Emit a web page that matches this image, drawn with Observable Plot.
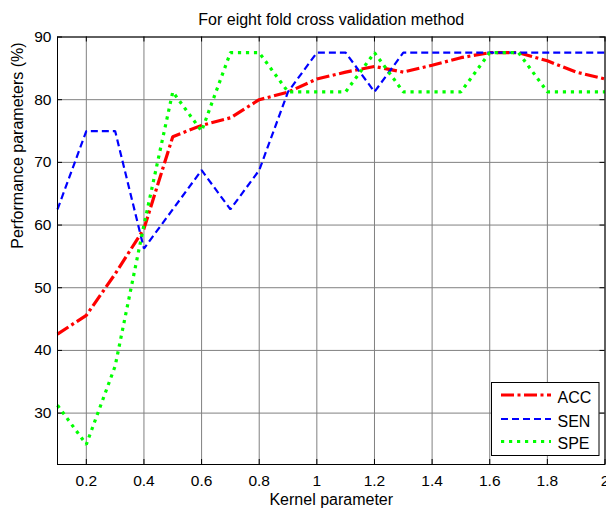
<!DOCTYPE html>
<html>
<head>
<meta charset="utf-8">
<script src="https://cdn.jsdelivr.net/npm/d3@7"></script>
<script src="https://cdn.jsdelivr.net/npm/@observablehq/plot@0.6"></script>
<style>
  html, body { margin: 0; padding: 0; background: white; }
  #chart { position: relative; width: 606px; height: 511px; font-family: "Liberation Sans", Arial, sans-serif; }
  #legend { position: absolute; left: 490.5px; top: 382px; }
</style>
</head>
<body>
<div id="chart"></div>
<script>
// ---- data ----
const kernel = [0.1, 0.2, 0.3, 0.4, 0.5, 0.6, 0.7, 0.8, 0.9, 1.0, 1.1, 1.2, 1.3, 1.4, 1.5, 1.6, 1.7, 1.8, 1.9, 2.0];
const acc = [42.6, 45.6, 52.2, 59.4, 74.1, 75.9, 77.1, 80.0, 81.2, 83.3, 84.4, 85.3, 84.4, 85.5, 86.7, 87.5, 87.5, 86.2, 84.4, 83.3];
const sen = [62.5, 75, 75, 56.25, 62.5, 68.75, 62.5, 68.75, 81.25, 87.5, 87.5, 81.25, 87.5, 87.5, 87.5, 87.5, 87.5, 87.5, 87.5, 87.5];
const spe = [31.25, 25, 37.5, 60, 81.25, 75, 87.5, 87.5, 81.25, 81.25, 81.25, 87.5, 81.25, 81.25, 81.25, 87.5, 87.5, 81.25, 81.25, 81.25];
const seriesNames = ["ACC", "SEN", "SPE"];
const xTicks = [0.2, 0.4, 0.6, 0.8, 1.0, 1.2, 1.4, 1.6, 1.8, 2.0];
const xTickLabels = ["0.2", "0.4", "0.6", "0.8", "1", "1.2", "1.4", "1.6", "1.8", "2"];
const yTicks = [30, 40, 50, 60, 70, 80, 90];
const titleText = "For eight fold cross validation method";
const xLabelText = "Kernel parameter";
const yLabelText = "Performance parameters (%)";

// ---- styles ----
const seriesValues = [acc, sen, spe];
const seriesStyle = [
  {stroke: "#ff0000", strokeWidth: 3.2, strokeDasharray: "13,3.5,3,3.5"},
  {stroke: "#0000ff", strokeWidth: 2.2, strokeDasharray: "7,4"},
  {stroke: "#00ff00", strokeWidth: 3.2, strokeDasharray: "3.2,4.8"}
];

const W = 606, H = 511;
const mL = 57, mR = 1.5, mT = 36.5, mB = 47;
const innerW = W - mL - mR, innerH = H - mT - mB;
const tickLen = 5;
const font = "'Liberation Sans', Arial, sans-serif";

const lineMarks = seriesValues.map((vals, s) =>
  Plot.line(kernel, {x: d => d, y: (d, i) => vals[i], ...seriesStyle[s], strokeLinecap: "butt", strokeLinejoin: "miter"})
);

const chart = Plot.plot({
  width: W, height: H,
  marginLeft: mL, marginRight: mR, marginTop: mT, marginBottom: mB,
  style: {fontFamily: font, fontSize: "15.5px", color: "black", background: "white", overflow: "visible"},
  x: {domain: [0.1, 2], ticks: xTicks, tickFormat: d => xTickLabels[xTicks.indexOf(d)], tickSize: 0, tickPadding: 10, label: null},
  y: {domain: [21.8, 90], ticks: yTicks, tickSize: 0, tickPadding: 6, label: null},
  marks: [
    Plot.ruleX(xTicks, {x: d => d, stroke: "#808080", strokeWidth: 1}),
    Plot.ruleY(yTicks, {y: d => d, stroke: "#808080", strokeWidth: 1}),
    Plot.tickX(xTicks, {x: d => d, insetTop: innerH - tickLen, stroke: "black"}),
    Plot.tickX(xTicks, {x: d => d, insetBottom: innerH - tickLen, stroke: "black"}),
    Plot.tickY(yTicks, {y: d => d, insetRight: innerW - tickLen, stroke: "black"}),
    Plot.tickY(yTicks, {y: d => d, insetLeft: innerW - tickLen, stroke: "black"}),
    ...lineMarks,
    Plot.frame({stroke: "black", strokeWidth: 1}),
    Plot.text([titleText], {text: d => d, frameAnchor: "top", lineAnchor: "middle", dy: -17.5, fontSize: 16}),
    Plot.text([xLabelText], {text: d => d, frameAnchor: "bottom", lineAnchor: "middle", dy: 35, fontSize: 16}),
    Plot.text([yLabelText], {text: d => d, frameAnchor: "left", lineAnchor: "middle", dx: -39.5, dy: -2, rotate: -90, fontSize: 16})
  ]
});
document.getElementById("chart").appendChild(chart);

// ---- legend (overlay inside the axes) ----
const legW = 108.5, legH = 74, rowY = [13, 37, 59.5];
const leg = d3.create("svg").attr("id", "legend").attr("width", legW).attr("height", legH)
  .style("overflow", "visible");
leg.append("rect").attr("x", 0.5).attr("y", 0.5).attr("width", legW - 1).attr("height", legH - 1)
  .attr("fill", "white").attr("stroke", "black");
seriesNames.forEach((name, s) => {
  const st = seriesStyle[s];
  leg.append("line").attr("x1", 10).attr("x2", 60).attr("y1", rowY[s]).attr("y2", rowY[s])
    .attr("stroke", st.stroke).attr("stroke-width", st.strokeWidth).attr("stroke-dasharray", st.strokeDasharray);
  leg.append("text").attr("x", 66.5).attr("y", rowY[s] + 2).attr("dy", "0.35em")
    .attr("font-family", font).attr("font-size", 16).text(name);
});
document.getElementById("chart").appendChild(leg.node());
</script>
</body>
</html>
